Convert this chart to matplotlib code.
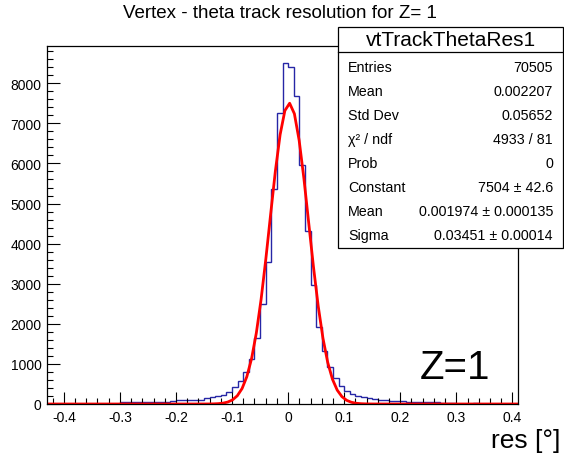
import numpy as np
import matplotlib
matplotlib.use("Agg")
import matplotlib.pyplot as plt
from matplotlib.patches import Rectangle
from matplotlib.ticker import MultipleLocator

plt.rcParams['font.family'] = ['Liberation Sans', 'DejaVu Sans']

# histogram: 0.01 wide bins starting at -0.30
bin_start = -0.30
bin_width = 0.01
counts = [45, 48, 50, 50, 52, 55, 55, 58, 60, 85,
          90, 95, 100, 105, 110, 140, 170, 190, 235, 290,
          415, 580, 805, 1120, 1640, 2494, 3550, 5360, 7257, 8518,
          8400, 7690, 5960, 4320, 2970, 1910, 1330, 915, 650, 440,
          330, 260, 200, 165, 140, 120, 105, 95, 85, 75,
          70, 60, 55, 50, 45, 40, 38, 35, 32, 30,
          10, 10, 10, 15, 5]

# gaussian fit result
fit_const = 7504
fit_mean = 0.001974
fit_sigma = 0.03451

stats_rows = [('Entries', '70505'),
              ('Mean', '0.002207'),
              ('Std Dev', '0.05652'),
              ('χ² / ndf', '4933 / 81'),
              ('Prob', '0'),
              ('Constant', '7504 ± 42.6'),
              ('Mean', '0.001974 ± 0.000135'),
              ('Sigma', '0.03451 ± 0.00014')]

W, H = 564, 456
fig = plt.figure(figsize=(W / 100, H / 100), dpi=100)
ax = fig.add_axes([47 / W, 1 - 405 / H, (518 - 47) / W, (405 - 47) / H])

edges = bin_start + bin_width * np.arange(len(counts) + 1)
ax.stairs(counts, edges, color='#2626a6', lw=1.0)

xmin, xmax = -0.43, 0.41
xf = np.linspace(xmin, xmax, 100)
yf = fit_const * np.exp(-0.5 * ((xf - fit_mean) / fit_sigma) ** 2)
ax.plot(xf, yf, color='#ff0000', lw=2.0)

ax.set_xlim(xmin, xmax)
ax.set_ylim(0, 8930)
ax.xaxis.set_major_locator(MultipleLocator(0.1))
ax.xaxis.set_minor_locator(MultipleLocator(0.02))
ax.yaxis.set_major_locator(MultipleLocator(1000))
ax.yaxis.set_minor_locator(MultipleLocator(200))
ax.tick_params(which='both', direction='in', top=False, right=False,
               labelsize=10, width=0.8)
ax.tick_params(which='major', length=9, pad=4)
ax.tick_params(which='minor', length=4.5)
ax.set_xticks(np.arange(-0.4, 0.41, 0.1))
ax.set_xticklabels(['%.1f' % v if abs(v) > 1e-9 else '0'
                    for v in np.arange(-0.4, 0.41, 0.1)])
ax.set_yticklabels([str(int(v)) for v in ax.get_yticks()])
for s in ax.spines.values():
    s.set_linewidth(0.9)

fig.text(280 / W, 1 - 14 / H, 'Vertex - theta track resolution for Z= 1',
         ha='center', va='center', fontsize=13.5)
fig.text(560 / W, 1 - 441 / H, 'res [°]', ha='right', va='center', fontsize=19)
ax.text(0.297, 920, 'Z=1', ha='center', va='center', fontsize=29)

# stats box
bx0, bx1, by0, by1 = 338, 563, 28, 249
fig.add_artist(Rectangle((bx0 / W, 1 - by1 / H), (bx1 - bx0) / W, (by1 - by0) / H,
                         transform=fig.transFigure, facecolor='white',
                         edgecolor='black', lw=0.9, zorder=5))
fig.add_artist(plt.Line2D([bx0 / W, bx1 / W], [1 - 53 / H, 1 - 53 / H],
                          transform=fig.transFigure, color='black', lw=0.9, zorder=6))
fig.text((bx0 + bx1) / 2 / W, 1 - 40.5 / H, 'vtTrackThetaRes1', ha='center',
         va='center', fontsize=15, zorder=7)
for i, (name, val) in enumerate(stats_rows):
    yy = 1 - (68 + 24 * i) / H
    fig.text(348 / W, yy, name, ha='left', va='center', fontsize=10.3, zorder=7)
    fig.text(553 / W, yy, val, ha='right', va='center', fontsize=10.3, zorder=7)

fig.savefig('out.png', dpi=100)
